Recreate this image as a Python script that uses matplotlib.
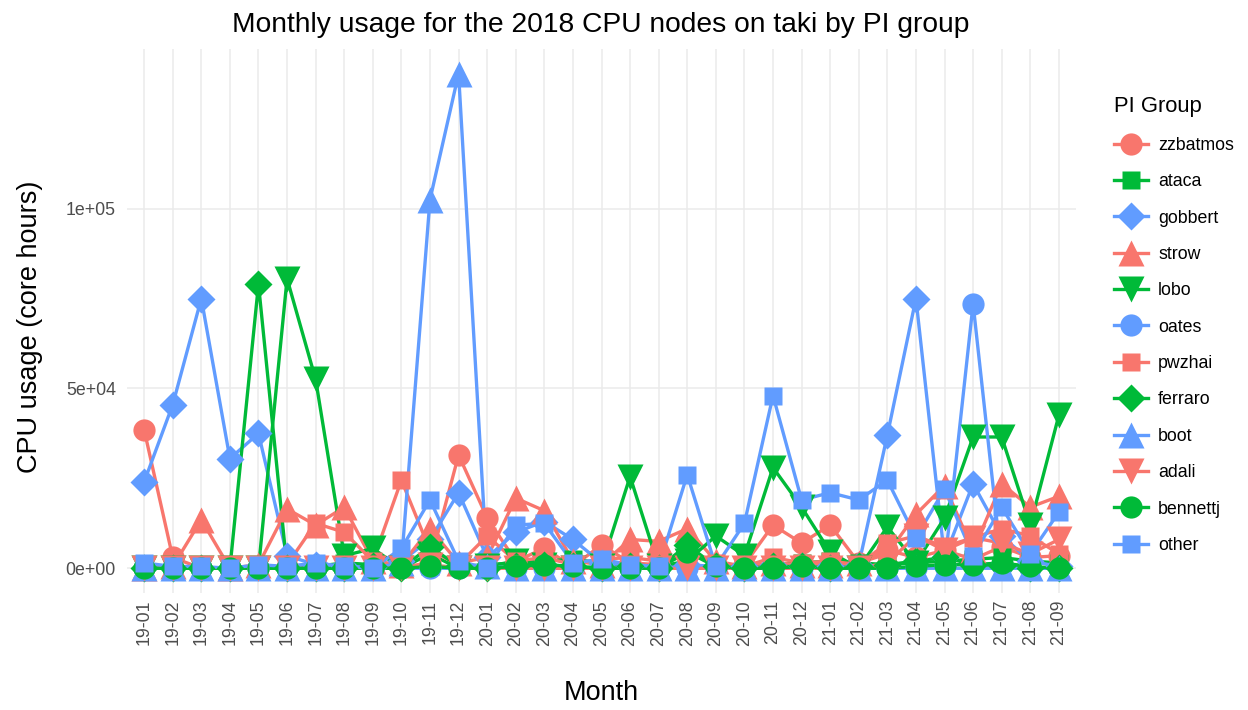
import numpy as np
import matplotlib
matplotlib.use("Agg")
import matplotlib.pyplot as plt
from matplotlib.lines import Line2D

plt.rcParams['font.family'] = ['Liberation Sans', 'DejaVu Sans']

# months Jan 2019 .. Sep 2021
months = ["19-01", "19-02", "19-03", "19-04", "19-05", "19-06", "19-07", "19-08",
          "19-09", "19-10", "19-11", "19-12", "20-01", "20-02", "20-03", "20-04",
          "20-05", "20-06", "20-07", "20-08", "20-09", "20-10", "20-11", "20-12",
          "21-01", "21-02", "21-03", "21-04", "21-05", "21-06", "21-07", "21-08",
          "21-09"]

# core hours per PI group
zzbatmos = [38500, 3000, 0, 200, 0, 300, 500, 0, 200, 300, 1500, 31500, 14000, 2000,
            5500, 500, 6500, 1500, 1000, 500, 300, 1000, 12000, 7000, 12000, 1500,
            5000, 3000, 5000, 2500, 6000, 3000, 3500]
ataca = [0, 0, 0, 0, 0, 0, 500, 1500, 1000, 0, 500, 500, 1000, 1500, 2000, 2500, 1500,
         1000, 500, 800, 500, 500, 1000, 1500, 2000, 1500, 1000, 1500, 2000, 2500,
         3000, 2000, 1500]
gobbert = [24000, 45500, 75000, 30500, 37500, 3500, 1000, 500, 300, 2000, 8000, 21000,
           3000, 10000, 13000, 8000, 1500, 500, 300, 1000, 500, 500, 1000, 500, 500,
           1000, 37000, 75000, 3000, 23500, 9000, 2000, 500]
strow = [0, 500, 13500, 0, 1000, 16500, 12000, 17000, 2000, 1000, 11000, 1500, 3000,
         19500, 16000, 2000, 1000, 8000, 7500, 11000, 2000, 500, 1500, 1000, 1000,
         1500, 4000, 15000, 23000, 5000, 23500, 17000, 20000]
lobo = [0, 0, 0, 0, 0, 80500, 52500, 3500, 5500, 0, 4000, 0, 500, 2000, 1000, 0, 500,
        25500, 500, 2000, 9000, 3500, 28000, 17000, 4500, 0, 11500, 1500, 14000,
        36500, 36500, 12000, 42500]
oates = [0, 0, 0, 0, 0, 0, 0, 0, 0, 0, 0, 0, 0, 0, 0, 0, 0, 0, 0, 0, 0, 0, 0, 0, 0,
         0, 0, 0, 500, 73500, 1000, 0, 0]
pwzhai = [0, 0, 0, 0, 0, 1000, 12500, 10000, 2000, 24500, 5000, 1000, 9000, 2000,
          3000, 1000, 2500, 3000, 2000, 4000, 1500, 500, 3000, 1500, 2000, 1000, 7000,
          9000, 6000, 8500, 11000, 9000, 4000]
ferraro = [0, 0, 0, 0, 79000, 0, 0, 0, 500, 0, 6000, 500, 0, 500, 1000, 500, 0, 500,
           0, 6500, 500, 0, 500, 500, 0, 500, 1000, 2000, 3000, 1000, 500, 0, 0]
boot = [0, 0, 0, 0, 0, 0, 0, 0, 0, 1500, 102500, 137500, 500, 0, 0, 0, 0, 0, 0, 0, 0,
        0, 0, 0, 0, 0, 0, 0, 0, 0, 0, 0, 0]
adali = [0, 0, 0, 0, 0, 0, 0, 0, 0, 0, 1000, 0, 0, 0, 0, 0, 0, 0, 0, 0, 0, 0, 0, 0, 0,
         0, 1500, 9000, 5000, 8500, 7000, 4000, 8000]
bennettj = [0, 0, 0, 0, 0, 0, 0, 0, 0, 0, 500, 0, 0, 500, 1000, 500, 0, 0, 0, 4500,
            500, 0, 0, 500, 0, 0, 0, 500, 1000, 1000, 1500, 500, 0]
other = [1500, 500, 500, 0, 1000, 500, 1500, 500, 0, 5500, 19000, 2000, 0, 12000,
         12500, 1500, 2500, 1000, 500, 26000, 500, 12500, 48000, 19000, 21000, 19000,
         24500, 8500, 22000, 3500, 17000, 4000, 15600]

groups = ["zzbatmos", "ataca", "gobbert", "strow", "lobo", "oates",
          "pwzhai", "ferraro", "boot", "adali", "bennettj", "other"]
series = [zzbatmos, ataca, gobbert, strow, lobo, oates,
          pwzhai, ferraro, boot, adali, bennettj, other]

yticks = [0, 50000, 100000]
ytick_labels = ["0e+00", "5e+04", "1e+05"]

# hue palette and shape cycle
pal = ["#F8766D", "#00BA38", "#619CFF"]
shapes = [("o", 16), ("s", 13), ("D", 14), ("^", 19), ("v", 19)]

fig = plt.figure(figsize=(12.48, 7.10), dpi=100)
ax = fig.add_axes([127/1248, 1 - 593/710, (1076 - 127)/1248, (593 - 49)/710])

x = np.arange(len(months))
styles = []
for i in range(len(groups)):
    mk, ms = shapes[i % 5]
    styles.append((pal[i % 3], mk, ms))

# lines first, then all the points on top
for vals, (c, mk, ms) in zip(series, styles):
    ax.plot(x, vals, color=c, lw=2.4, solid_joinstyle='round', zorder=2)
for vals, (c, mk, ms) in zip(series, styles):
    ax.plot(x, vals, ls='none', marker=mk, ms=ms, color=c, mec='none', zorder=3)

ax.set_xlim(-0.6, len(months) - 0.4)
top = 137500
ax.set_ylim(-0.05 * top, 1.05 * top)
ax.set_xticks(x)
ax.set_xticklabels(months, rotation=90)
ax.set_yticks(yticks)
ax.set_yticklabels(ytick_labels)
ax.tick_params(length=0, labelsize=12.8, labelcolor="#4D4D4D")
ax.tick_params(axis='y', pad=8)
ax.tick_params(axis='x', pad=5)
ax.grid(True, color="#EBEBEB", lw=1.1)
ax.set_axisbelow(True)
for s in ax.spines.values():
    s.set_visible(False)

fig.text(601/1248, 1 - 25/710, "Monthly usage for the 2018 CPU nodes on taki by PI group",
         ha='center', va='center', fontsize=20.3)
fig.text(601/1248, 1 - 693/710, "Month", ha='center', va='center', fontsize=19.5)
fig.text(30/1248, 1 - 327/710, "CPU usage (core hours)", ha='center', va='center',
         rotation=90, fontsize=19.5)

handles = [Line2D([0], [0], color=c, lw=2.4, marker=mk, ms=ms, mec='none')
           for (c, mk, ms) in styles]
leg = fig.legend(handles, groups, loc='upper left', bbox_to_anchor=(1102/1248, 1 - 84/710),
                 frameon=False, fontsize=12.8, title="PI Group", title_fontsize=15.8,
                 handlelength=1.9, handletextpad=0.55, labelspacing=1.09,
                 alignment='left', borderpad=0.2)

fig.savefig("out.png", dpi=100)
